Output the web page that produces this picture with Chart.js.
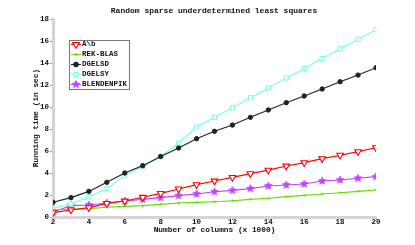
<!DOCTYPE html>
<html>
<head>
<meta charset="utf-8">
<script src="https://cdn.jsdelivr.net/npm/chart.js@4/dist/chart.umd.min.js"></script>
<style>
  html, body { margin: 0; padding: 0; background: #fff; }
  #wrap { width: 415px; height: 245px; }
</style>
</head>
<body>
<div id="wrap"><canvas id="chart" width="415" height="245"></canvas></div>
<script>
// data
var columns = [2, 3, 4, 5, 6, 7, 8, 9, 10, 11, 12, 13, 14, 15, 16, 17, 18, 19, 20];
var backslash = [0.4, 0.64, 0.85, 1.24, 1.45, 1.79, 2.15, 2.55, 2.94, 3.27, 3.6, 3.94, 4.26, 4.63, 4.94, 5.31, 5.62, 5.94, 6.3];
var rekBlas = [0.65, 0.7, 0.76, 0.88, 0.97, 1.03, 1.15, 1.27, 1.33, 1.39, 1.48, 1.6, 1.7, 1.85, 1.97, 2.09, 2.21, 2.33, 2.45];
var dgelsd = [1.34, 1.76, 2.33, 3.15, 4.0, 4.67, 5.5, 6.27, 7.12, 7.79, 8.36, 9.06, 9.73, 10.39, 11.0, 11.64, 12.3, 12.9, 13.57];
var dgelsy = [0.78, 1.18, 1.85, 2.6, 3.76, 4.58, 5.48, 6.73, 8.18, 9.06, 9.94, 10.85, 11.73, 12.64, 13.5, 14.4, 15.3, 16.15, 17.03];
var blendenpik = [0.45, 1.03, 1.09, 1.27, 1.45, 1.6, 1.76, 1.94, 2.09, 2.3, 2.42, 2.58, 2.82, 2.91, 3.0, 3.27, 3.36, 3.52, 3.67];
var seriesNames = ['A\\b', 'REK-BLAS', 'DGELSD', 'DGELSY', 'BLENDENPIK'];
var chartTitle = 'Random sparse underdetermined least squares';
var xTitle = 'Number of columns (x 1000)';
var yTitle = 'Running time (in sec)';

var FONT = '"Liberation Mono", "DejaVu Sans Mono", monospace';

// filled pentagram marker
function makeStar(color, r) {
  var c = document.createElement('canvas');
  c.width = r * 2 + 2; c.height = r * 2 + 2;
  var g = c.getContext('2d');
  var cx = r + 1, cy = r + 1;
  g.beginPath();
  for (var i = 0; i < 10; i++) {
    var rad = (i % 2 == 0) ? r : r * 0.45;
    var a = -Math.PI / 2 + i * Math.PI / 5;
    var px = cx + rad * Math.cos(a), py = cy + rad * Math.sin(a);
    if (i == 0) g.moveTo(px, py); else g.lineTo(px, py);
  }
  g.closePath();
  g.fillStyle = color;
  g.fill();
  g.strokeStyle = color;
  g.lineWidth = 0.8;
  g.stroke();
  return c;
}
var purpleStar = makeStar('#bb44ff', 4);

function pts(arr) {
  return arr.map(function (v, i) { return { x: columns[i], y: v }; });
}

var datasets = [
  { label: seriesNames[0], data: pts(backslash), borderColor: '#ff0000', backgroundColor: '#ffffff',
    pointStyle: 'triangle', rotation: 180, pointRadius: 3.8, pointBorderWidth: 1.1, borderWidth: 1.1 },
  { label: seriesNames[1], data: pts(rekBlas), borderColor: '#66dd00', backgroundColor: '#66dd00',
    pointStyle: 'circle', pointRadius: 0.8, pointBorderWidth: 1, borderWidth: 1.1 },
  { label: seriesNames[2], data: pts(dgelsd), borderColor: '#222222', backgroundColor: '#222222',
    pointStyle: 'circle', pointRadius: 2.2, pointBorderWidth: 1, borderWidth: 1.1 },
  { label: seriesNames[3], data: pts(dgelsy), borderColor: '#77ffdd', backgroundColor: '#ffffff',
    pointStyle: 'rect', pointRadius: 3, pointBorderWidth: 1, borderWidth: 1.1 },
  { label: seriesNames[4], data: pts(blendenpik), borderColor: '#bb44ff', backgroundColor: '#bb44ff',
    pointStyle: purpleStar, pointRadius: 4, borderWidth: 1.1 }
];
datasets.forEach(function (d) { d.tension = 0; d.fill = false; });

var boxLegend = {
  id: 'boxLegend',
  afterDraw: function (chart) {
    var ctx = chart.ctx;
    ctx.save();
    ctx.fillStyle = '#fff';
    ctx.fillRect(69, 40, 60, 49);
    ctx.strokeStyle = '#777';
    ctx.lineWidth = 1;
    ctx.strokeRect(69.5, 40.5, 60, 49);
    ctx.font = 'bold 7.5px ' + FONT;
    ctx.textBaseline = 'middle';
    chart.data.datasets.forEach(function (ds, i) {
      var y = 44.5 + i * 10;
      ctx.strokeStyle = ds.borderColor;
      ctx.lineWidth = 1.1;
      ctx.beginPath(); ctx.moveTo(71, y); ctx.lineTo(81, y); ctx.stroke();
      ctx.fillStyle = ds.backgroundColor;
      ctx.strokeStyle = ds.borderColor;
      Chart.helpers.drawPoint(ctx, {
        pointStyle: ds.pointStyle, rotation: ds.rotation || 0,
        radius: ds.pointRadius, borderWidth: ds.pointBorderWidth || 1
      }, 76, y);
      ctx.fillStyle = '#111';
      ctx.fillText(ds.label, 82, y);
    });
    ctx.restore();
  }
};

var titlePlugin = {
  id: 'topTitle',
  afterDraw: function (chart) {
    var ctx = chart.ctx;
    ctx.save();
    ctx.font = 'bold 8px ' + FONT;
    ctx.fillStyle = '#111';
    ctx.textAlign = 'center';
    ctx.textBaseline = 'middle';
    ctx.fillText(chartTitle, 214, 11);
    ctx.restore();
  }
};

Chart.defaults.font.family = FONT;
Chart.defaults.font.size = 7.5;
Chart.defaults.font.weight = 'bold';
Chart.defaults.color = '#111';

new Chart(document.getElementById('chart').getContext('2d'), {
  type: 'line',
  data: { datasets: datasets },
  options: {
    responsive: false,
    animation: false,
    layout: { padding: { top: 19, right: 39, left: 31, bottom: 11 } },
    plugins: { legend: { display: false }, tooltip: { enabled: false } },
    scales: {
      x: {
        type: 'linear', min: 2, max: 20,
        ticks: { stepSize: 2, maxRotation: 0, padding: -2 },
        grid: { drawOnChartArea: false, tickLength: 3, color: '#999' },
        border: { color: '#d4d4d4', width: 3 },
        title: { display: true, text: xTitle, padding: 0, font: { size: 7.8, lineHeight: 1 } },
        afterFit: function (s) { s.height = 17; }
      },
      y: {
        min: 0, max: 18,
        ticks: { stepSize: 2, padding: 1 },
        grid: { drawOnChartArea: false, tickLength: 3, color: '#999' },
        border: { color: '#d4d4d4', width: 3 },
        title: { display: true, text: yTitle, padding: 0, font: { size: 7.8 } },
        afterFit: function (s) { s.width = 22; }
      }
    }
  },
  plugins: [boxLegend, titlePlugin]
});
</script>
</body>
</html>
